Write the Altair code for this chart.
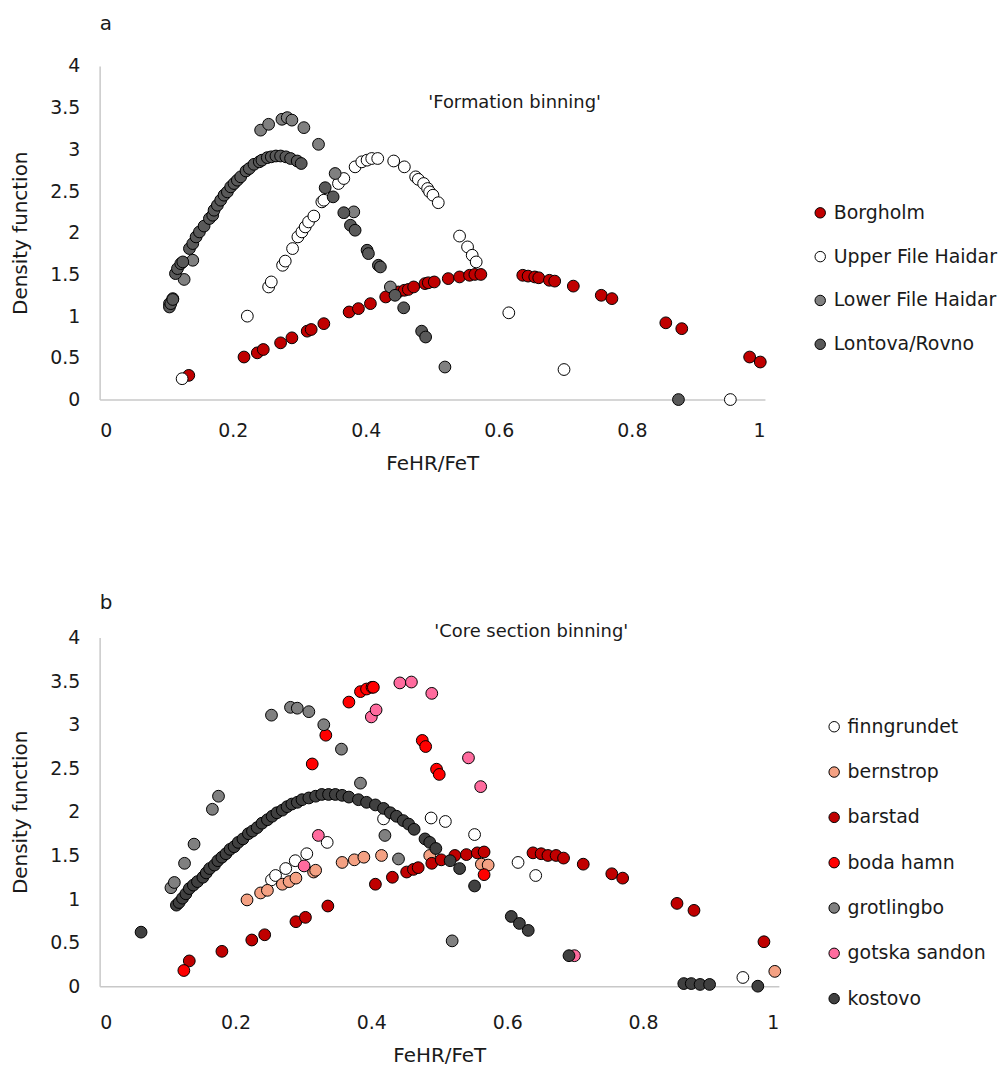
import altair as alt
import pandas as pd

FONT = "DejaVu Sans"

# ---------------- panel a : 'Formation binning' ----------------
a_names = ["Borgholm", "Upper File Haidar", "Lower File Haidar", "Lontova/Rovno"]
a_colors = ["#C00000", "#FFFFFF", "#808080", "#595959"]

borgholm_x = [0.134, 0.217, 0.237, 0.246, 0.272, 0.289, 0.312, 0.318, 0.337, 0.375, 0.389, 0.407,
              0.430, 0.449, 0.458, 0.464, 0.472, 0.489, 0.494, 0.503, 0.524, 0.541, 0.556, 0.564,
              0.573, 0.636, 0.644, 0.654, 0.660, 0.676, 0.684, 0.712, 0.754, 0.770, 0.851, 0.875,
              0.977, 0.993]
borgholm_y = [0.29, 0.51, 0.56, 0.60, 0.68, 0.74, 0.82, 0.84, 0.91, 1.05, 1.09, 1.15,
              1.23, 1.29, 1.31, 1.32, 1.35, 1.39, 1.40, 1.41, 1.45, 1.47, 1.49, 1.50,
              1.50, 1.49, 1.48, 1.47, 1.46, 1.43, 1.42, 1.36, 1.25, 1.21, 0.92, 0.85,
              0.51, 0.45]

upper_x = [0.124, 0.222, 0.254, 0.258, 0.275, 0.279, 0.290, 0.298, 0.304, 0.309, 0.314, 0.322,
           0.334, 0.337, 0.359, 0.367, 0.384, 0.394, 0.402, 0.409, 0.418, 0.442, 0.458, 0.475,
           0.479, 0.487, 0.493, 0.496, 0.501, 0.509, 0.541, 0.553, 0.560, 0.566, 0.615, 0.698,
           0.948]
upper_y = [0.25, 1.00, 1.35, 1.41, 1.61, 1.66, 1.81, 1.95, 2.01, 2.07, 2.13, 2.20,
           2.37, 2.39, 2.59, 2.65, 2.79, 2.85, 2.87, 2.89, 2.89, 2.86, 2.79, 2.67,
           2.64, 2.59, 2.53, 2.49, 2.45, 2.36, 1.96, 1.83, 1.73, 1.65, 1.04, 0.36,
           0.0]

lower_x = [0.105, 0.110, 0.127, 0.140, 0.242, 0.254, 0.274, 0.282, 0.289, 0.307, 0.329, 0.354,
           0.382, 0.437, 0.519]
lower_y = [1.15, 1.21, 1.44, 1.67, 3.23, 3.30, 3.36, 3.38, 3.35, 3.26, 3.06, 2.71,
           2.25, 1.35, 0.39]

lontova_x = [0.105, 0.107, 0.110, 0.114, 0.117, 0.122, 0.125, 0.135, 0.140, 0.145, 0.150, 0.157,
             0.165, 0.170, 0.172, 0.177, 0.182, 0.187, 0.192, 0.197, 0.202, 0.207, 0.212, 0.220,
             0.225, 0.232, 0.240, 0.244, 0.252, 0.258, 0.265, 0.272, 0.280, 0.287, 0.297, 0.303,
             0.339, 0.351, 0.367, 0.377, 0.384, 0.402, 0.404, 0.419, 0.422, 0.444, 0.457, 0.484,
             0.490, 0.870]
lontova_y = [1.11, 1.15, 1.20, 1.51, 1.57, 1.63, 1.65, 1.81, 1.87, 1.95, 2.01, 2.08,
             2.17, 2.21, 2.27, 2.33, 2.39, 2.45, 2.49, 2.55, 2.59, 2.63, 2.67, 2.74,
             2.77, 2.82, 2.85, 2.87, 2.90, 2.91, 2.92, 2.92, 2.91, 2.89, 2.86, 2.83,
             2.54, 2.43, 2.24, 2.09, 2.03, 1.79, 1.75, 1.61, 1.59, 1.25, 1.10, 0.82,
             0.75, 0.0]

# ---------------- panel b : 'Core section binning' ----------------
b_names = ["finngrundet", "bernstrop", "barstad", "boda hamn", "grotlingbo", "gotska sandon", "kostovo"]
b_colors = ["#FFFFFF", "#F4A183", "#C00000", "#FF0000", "#808080", "#FF6B9E", "#404040"]

finn_x = [0.253, 0.259, 0.274, 0.288, 0.305, 0.335, 0.418, 0.488, 0.509, 0.552, 0.616, 0.642, 0.947]
finn_y = [1.22, 1.27, 1.35, 1.44, 1.52, 1.65, 1.92, 1.93, 1.89, 1.74, 1.42, 1.27, 0.10]

bern_x = [0.217, 0.237, 0.247, 0.269, 0.279, 0.289, 0.315, 0.318, 0.357, 0.375, 0.389, 0.415,
          0.486, 0.562, 0.572, 0.994]
bern_y = [0.99, 1.07, 1.10, 1.17, 1.20, 1.24, 1.31, 1.33, 1.42, 1.45, 1.48, 1.50,
          1.50, 1.40, 1.39, 0.17]

barstad_x = [0.132, 0.180, 0.224, 0.243, 0.289, 0.303, 0.336, 0.406, 0.431, 0.452, 0.462, 0.469,
             0.489, 0.503, 0.523, 0.540, 0.556, 0.566, 0.638, 0.650, 0.660, 0.672, 0.683, 0.712,
             0.754, 0.770, 0.850, 0.875, 0.978]
barstad_y = [0.29, 0.40, 0.53, 0.59, 0.74, 0.79, 0.92, 1.17, 1.25, 1.31, 1.34, 1.36,
             1.41, 1.45, 1.50, 1.51, 1.53, 1.54, 1.53, 1.52, 1.50, 1.50, 1.47, 1.40,
             1.29, 1.24, 0.95, 0.87, 0.51]

boda_x = [0.124, 0.313, 0.333, 0.367, 0.384, 0.393, 0.401, 0.403, 0.475, 0.480, 0.496, 0.500, 0.566]
boda_y = [0.18, 2.55, 2.88, 3.26, 3.38, 3.41, 3.43, 3.43, 2.82, 2.75, 2.49, 2.43, 1.28]

grot_x = [0.105, 0.110, 0.125, 0.139, 0.166, 0.175, 0.253, 0.281, 0.291, 0.308, 0.330, 0.356,
          0.384, 0.420, 0.440, 0.519]
grot_y = [1.13, 1.19, 1.41, 1.63, 2.03, 2.18, 3.11, 3.20, 3.19, 3.15, 3.00, 2.72,
          2.33, 1.73, 1.46, 0.52]

gotska_x = [0.301, 0.322, 0.400, 0.407, 0.442, 0.459, 0.489, 0.543, 0.561, 0.699]
gotska_y = [1.38, 1.73, 3.09, 3.17, 3.48, 3.49, 3.36, 2.62, 2.29, 0.35]

kost_x = [0.061, 0.113, 0.117, 0.122, 0.127, 0.132, 0.138, 0.144, 0.152, 0.157, 0.162, 0.169,
          0.174, 0.180, 0.186, 0.192, 0.198, 0.204, 0.211, 0.219, 0.225, 0.232, 0.239, 0.247,
          0.254, 0.261, 0.269, 0.276, 0.283, 0.291, 0.298, 0.308, 0.318, 0.327, 0.337, 0.347,
          0.357, 0.367, 0.381, 0.393, 0.406, 0.418, 0.428, 0.437, 0.447, 0.455, 0.463, 0.479,
          0.486, 0.495, 0.516, 0.530, 0.552, 0.606, 0.618, 0.631, 0.691, 0.860, 0.871, 0.884,
          0.898, 0.969]
kost_y = [0.62, 0.93, 0.96, 1.01, 1.06, 1.12, 1.16, 1.20, 1.25, 1.30, 1.35, 1.39,
          1.44, 1.48, 1.52, 1.57, 1.60, 1.65, 1.69, 1.75, 1.78, 1.82, 1.87, 1.91,
          1.95, 1.99, 2.02, 2.06, 2.09, 2.11, 2.14, 2.16, 2.18, 2.20, 2.20, 2.20,
          2.19, 2.17, 2.14, 2.11, 2.08, 2.04, 1.99, 1.95, 1.90, 1.86, 1.80, 1.69,
          1.65, 1.58, 1.44, 1.35, 1.15, 0.80, 0.72, 0.64, 0.35, 0.03, 0.03, 0.02,
          0.02, 0.0]

x_ticks = [0, 0.2, 0.4, 0.6, 0.8, 1]
y_ticks = [0, 0.5, 1, 1.5, 2, 2.5, 3, 3.5, 4]


def frame(names, xs, ys):
    rows = []
    for n, xv, yv in zip(names, xs, ys):
        for a, b in zip(xv, yv):
            rows.append({"series": n, "x": a, "y": b})
    df = pd.DataFrame(rows)
    df["ord"] = range(len(df))
    return df


df_a = frame(a_names, [borgholm_x, upper_x, lower_x, lontova_x],
             [borgholm_y, upper_y, lower_y, lontova_y])
df_b = frame(b_names, [finn_x, bern_x, barstad_x, boda_x, grot_x, gotska_x, kost_x],
             [finn_y, bern_y, barstad_y, boda_y, grot_y, gotska_y, kost_y])


def panel(df, names, colors, w, h, letter, subtitle, legx, legy, row_pad, title_off, sub_xy,
          xlab_pad, xtitle_y):
    xaxis = alt.Axis(values=x_ticks, format="~g", title="FeHR/FeT", grid=False, ticks=False,
                     tickSize=0, labelPadding=xlab_pad, titleX=w / 2, titleY=xtitle_y,
                     titleBaseline="middle", titleAlign="center")
    yaxis = alt.Axis(values=y_ticks, format="~g", title="Density function", grid=False,
                     ticks=False, tickSize=0, labelPadding=20, titleX=-79, titleY=h / 2,
                     titleBaseline="middle", titleAlign="center", titleAngle=-90)
    pts = alt.Chart(df).mark_circle(size=140, stroke="black", strokeWidth=1, opacity=1).encode(
        x=alt.X("x:Q", scale=alt.Scale(domain=[0, 1], nice=False), axis=xaxis),
        y=alt.Y("y:Q", scale=alt.Scale(domain=[0, 4], nice=False), axis=yaxis),
        fill=alt.Fill("series:N", scale=alt.Scale(domain=names, range=colors),
                      legend=alt.Legend(title=None, orient="none", legendX=legx, legendY=legy,
                                        symbolType="circle", symbolSize=110,
                                        symbolStrokeColor="black", symbolStrokeWidth=1,
                                        labelFont=FONT, labelFontSize=19, labelColor="#1a1a1a",
                                        labelLimit=400, rowPadding=row_pad, labelOffset=4,
                                        padding=0)),
        order=alt.Order("ord:Q"),
    )
    sub = alt.Chart(pd.DataFrame({"t": [subtitle]})).mark_text(
        align="left", baseline="middle", font=FONT, fontSize=18, color="#1a1a1a"
    ).encode(x=alt.value(sub_xy[0]), y=alt.value(sub_xy[1]), text="t:N")
    return alt.layer(pts, sub).properties(
        width=w, height=h,
        title=alt.TitleParams(letter, anchor="start", frame="group", fontSize=20,
                              fontWeight="normal", font=FONT, color="#1a1a1a", offset=title_off),
    )


pa = panel(df_a, a_names, a_colors, 668, 335, "a", "'Formation binning'",
           714, 138, 24, 23, (330, 37), 22, 64)
pb = panel(df_b, b_names, b_colors, 682, 350, "b", "'Core section binning'",
           728, 80, 25.5, 10, (336, -6), 27, 70)

chart = alt.vconcat(pa, pb, spacing=120).resolve_scale(fill="independent").properties(
    padding={"left": 3, "top": 4, "right": 0, "bottom": 0}
).configure_view(stroke=None).configure_axis(
    domainColor="#C8C8C8", domainWidth=1.5, labelFont=FONT, titleFont=FONT,
    labelFontSize=19, titleFontSize=20, labelColor="#1a1a1a", titleColor="#1a1a1a",
    titleFontWeight="normal"
)

chart.save("out.html", embed_options={"renderer": "svg", "actions": False})
